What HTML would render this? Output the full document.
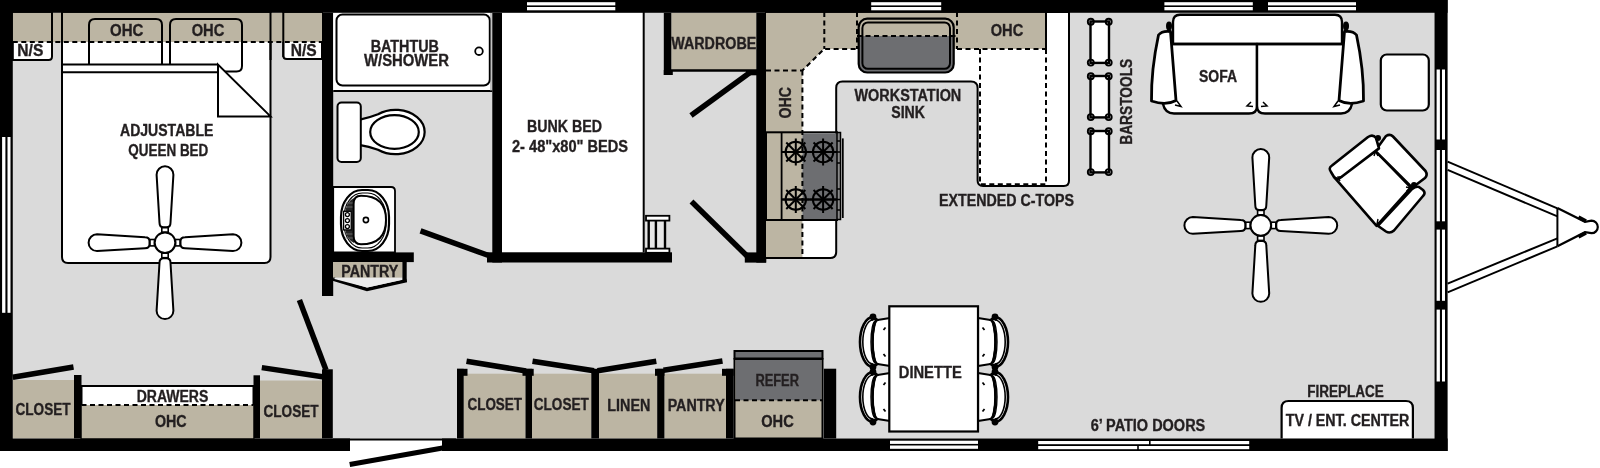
<!DOCTYPE html>
<html><head><meta charset="utf-8"><style>
html,body{margin:0;padding:0;background:#fff;}
svg{display:block;will-change:transform;}
</style></head><body>
<svg width="1600" height="468" viewBox="0 0 1600 468">
<rect x="0" y="0" width="1600" height="468" fill="#fff"/>
<rect x="12.8" y="12.8" width="1421.7" height="425.7" fill="#dadada"/>
<path d="M62,12 L270.5,12 L270.5,257 Q270.5,263 264.5,263 L68,263 Q62,263 62,257 Z" fill="#fff" stroke="#000" stroke-width="2"/>
<path d="M12.8,12 L52,12 L52,56.5 Q52,60 48.5,60 L12.8,60 Z" fill="#fff" stroke="#000" stroke-width="2"/>
<path d="M322,12 L283.3,12 L283.3,55.5 Q283.3,59 286.8,59 L322,59 Z" fill="#fff" stroke="#000" stroke-width="2"/>
<rect x="12.8" y="12.8" width="309.2" height="29.2" fill="#bcb5a3"/>
<g fill="none" stroke="#000" stroke-width="2">
<line x1="52" y1="12" x2="52" y2="57"/>
<line x1="62" y1="12" x2="62" y2="60"/>
<line x1="270.5" y1="12" x2="270.5" y2="60"/>
<line x1="283.3" y1="12" x2="283.3" y2="57"/>
</g>
<path d="M89,64.6 L89,25 Q89,19 95,19 L156,19 Q162,19 162,25 L162,64.6" fill="none" stroke="#000" stroke-width="2"/>
<path d="M170,64.6 L170,25 Q170,19 176,19 L236,19 Q242,19 242,25 L242,66 Q242,71.5 236.5,71.5 L218,71.5" fill="none" stroke="#000" stroke-width="2"/>
<g fill="none" stroke="#000" stroke-width="2">
<line x1="62" y1="64.6" x2="218" y2="64.6"/>
<line x1="62" y1="72.3" x2="218" y2="72.3"/>
<path d="M218,64.6 L218,116.4 L270.5,116.4 Z" fill="#fff"/>
</g>
<line x1="12.8" y1="42" x2="322" y2="42" stroke="#000" stroke-width="2" stroke-dasharray="5,3.5"/>
<g transform="translate(165,242.7)" fill="#fff" stroke="#000" stroke-width="2"><g transform="rotate(0)"><path d="M-5.5,-20 L-8.4,-68 A8.4,8.4 0 0 1 8.4,-68 L5.5,-20 Q5.5,-15.5 1.5,-15.5 L-1.5,-15.5 Q-5.5,-15.5 -5.5,-20 Z"/><rect x="-3.2" y="-15" width="6.4" height="4.5" stroke-width="1.6"/></g><g transform="rotate(90)"><path d="M-5.5,-20 L-8.4,-68 A8.4,8.4 0 0 1 8.4,-68 L5.5,-20 Q5.5,-15.5 1.5,-15.5 L-1.5,-15.5 Q-5.5,-15.5 -5.5,-20 Z"/><rect x="-3.2" y="-15" width="6.4" height="4.5" stroke-width="1.6"/></g><g transform="rotate(180)"><path d="M-5.5,-20 L-8.4,-68 A8.4,8.4 0 0 1 8.4,-68 L5.5,-20 Q5.5,-15.5 1.5,-15.5 L-1.5,-15.5 Q-5.5,-15.5 -5.5,-20 Z"/><rect x="-3.2" y="-15" width="6.4" height="4.5" stroke-width="1.6"/></g><g transform="rotate(270)"><path d="M-5.5,-20 L-8.4,-68 A8.4,8.4 0 0 1 8.4,-68 L5.5,-20 Q5.5,-15.5 1.5,-15.5 L-1.5,-15.5 Q-5.5,-15.5 -5.5,-20 Z"/><rect x="-3.2" y="-15" width="6.4" height="4.5" stroke-width="1.6"/></g><circle r="10.3" /></g>
<rect x="12.8" y="380" width="61.2" height="58.5" fill="#bcb5a3"/>
<rect x="81.5" y="386" width="172.0" height="52.5" fill="#fff" stroke="#000" stroke-width="2"/>
<rect x="81.5" y="405" width="172.0" height="33.5" fill="#bcb5a3"/>
<line x1="81.5" y1="405" x2="253.5" y2="405" stroke="#000" stroke-width="2" stroke-dasharray="5,3.5"/>
<rect x="260" y="380.5" width="62" height="58.0" fill="#bcb5a3"/>
<g fill="#000">
<rect x="74" y="375" width="7.5" height="63.5"/>
<rect x="253.5" y="375.3" width="6.5" height="63.19999999999999"/>
<rect x="322" y="369.3" width="10.8" height="69.19999999999999"/>
</g>
<g stroke="#000" stroke-width="5.5" fill="none">
<line x1="12.8" y1="377.3" x2="73.5" y2="367"/>
<line x1="261.8" y1="367.6" x2="322.5" y2="376.8"/>
<line x1="299.4" y1="300" x2="326" y2="370"/>
</g>
<rect x="322" y="12.8" width="11.2" height="283.2" fill="#000"/>
<rect x="333.2" y="12.8" width="159.10000000000002" height="78.2" fill="#fff"/>
<line x1="333.2" y1="91" x2="492.3" y2="91" stroke="#000" stroke-width="2"/>
<rect x="336.5" y="14.5" width="153.3" height="71" rx="6" fill="#fff" stroke="#000" stroke-width="2"/>
<circle cx="479" cy="51.2" r="3.8" fill="#fff" stroke="#000" stroke-width="1.8"/>
<line x1="491" y1="12" x2="491" y2="91" stroke="#888" stroke-width="1"/>
<path d="M359,119.8 Q369,117.8 378,114.2 A29.2,22.2 0 1 1 378,149.8 Q369,146.2 359,144.8 Z" fill="#fff" stroke="#000" stroke-width="2.2"/>
<ellipse cx="394.5" cy="132" rx="24.3" ry="16.8" fill="#fff" stroke="#000" stroke-width="2.2"/>
<rect x="337.5" y="102.5" width="23.3" height="59.5" rx="4" fill="#fff" stroke="#000" stroke-width="2"/>
<path d="M333.2,187 L391,187 Q395,187 395,191 L395,252.5 L333.2,252.5 Z" fill="#fff" stroke="#000" stroke-width="1.8"/>
<rect x="341" y="190" width="48" height="61" rx="21" ry="27" fill="#fff" stroke="#000" stroke-width="2.2"/>
<rect x="344" y="193" width="42" height="55" rx="18.3" ry="24.3" fill="none" stroke="#000" stroke-width="1.1"/>
<path d="M354,198 L354,243 Q347,240 345.3,230 L345.3,211 Q347,201 354,198 Z" fill="#262626"/>
<g stroke="#777" stroke-width="0.8"><line x1="345" y1="203" x2="353" y2="203"/><line x1="344.5" y1="207" x2="353" y2="207"/><line x1="344.5" y1="234" x2="353" y2="234"/><line x1="345" y1="238" x2="353" y2="238"/></g>
<path d="M361,195.8 Q386,195.8 386,220 Q386,244.3 361,244.3 Q353.6,244.3 353.6,236 L353.6,204 Q353.6,195.8 361,195.8 Z" fill="#fff" stroke="#000" stroke-width="2"/>
<rect x="343.6" y="211.3" width="7.6" height="18.6" fill="#fff" stroke="#000" stroke-width="1.3"/>
<g fill="#fff" stroke="#000" stroke-width="1.3"><circle cx="347.4" cy="214.6" r="2"/><circle cx="347.4" cy="220.6" r="2"/><circle cx="347.4" cy="226.6" r="2"/></g>
<circle cx="365.9" cy="220" r="2.6" fill="#fff" stroke="#000" stroke-width="1.6"/>
<rect x="333" y="252.4" width="80.8" height="9.7" fill="#000"/>
<rect x="333" y="262" width="69.4" height="15.8" fill="#bcb5a3"/>
<path d="M333,279 L367,289.5 L406.7,280.5" fill="none" stroke="#000" stroke-width="3.6"/>
<path d="M334.5,279 L367,287.5 L404,279.5 L404,277.8 L334.5,277.8 Z" fill="#ececec"/>
<rect x="402.4" y="262" width="4.3" height="20" fill="#000"/>
<line x1="420.5" y1="230.8" x2="490" y2="256" stroke="#000" stroke-width="5.5"/>
<rect x="502" y="12.8" width="141.70000000000005" height="239.6" fill="#fff"/>
<line x1="643.7" y1="12" x2="643.7" y2="252.4" stroke="#000" stroke-width="2"/>
<rect x="492.3" y="12.8" width="9.7" height="249.7" fill="#000"/>
<rect x="487" y="252.3" width="185" height="10.2" fill="#000"/>
<rect x="646" y="220.8" width="20" height="27.8" fill="#e6e6e6"/>
<g fill="#fff" stroke="#000" stroke-width="1.8">
<rect x="646" y="215.8" width="23.4" height="4.8"/>
<rect x="646" y="248.6" width="23.4" height="4.2"/>
</g>
<g stroke="#000" stroke-width="2.4"><line x1="648.7" y1="220" x2="648.7" y2="249"/><line x1="655.9" y1="220" x2="655.9" y2="249"/><line x1="665" y1="220" x2="665" y2="249"/></g>
<rect x="671.3" y="12.8" width="85.0" height="57.7" fill="#bcb5a3"/>
<line x1="664" y1="70.5" x2="757" y2="70.5" stroke="#000" stroke-width="2.5"/>
<rect x="663.8" y="12.8" width="7.5" height="62.2" fill="#000"/>
<rect x="663.8" y="70" width="9" height="5" fill="#000"/>
<line x1="691" y1="115.5" x2="750" y2="72.5" stroke="#000" stroke-width="5.5"/><rect x="746" y="70.3" width="11" height="5" fill="#000"/>
<line x1="691.5" y1="201.5" x2="747" y2="256" stroke="#000" stroke-width="5.5"/>
<rect x="744.8" y="252.4" width="21.5" height="10.2" fill="#000"/>
<path d="M766,12 L1069,12 L1069,180.8 Q1069,186 1063.8,186 L983,186 Q977.6,186 977.6,180.6 L977.6,88 Q977.6,81.5 971,81.5 L842.5,81.5 Q836.2,81.5 836.2,88 L836.2,252 Q836.2,258 830.2,258 L766,258 Z" fill="#fff" stroke="#000" stroke-width="2"/>
<path d="M766,12.8 L1046,12.8 L1046,49 L824,49 L802.4,70.5 L802.4,257 L766,257 Z" fill="#bcb5a3"/>
<line x1="1046" y1="12" x2="1046" y2="49" stroke="#000" stroke-width="2"/>
<rect x="766" y="132.3" width="71" height="87.7" fill="none" stroke="#000" stroke-width="2"/>
<rect x="802.4" y="133.3" width="34.6" height="85.7" fill="#6d6e71"/>
<rect x="837" y="132.5" width="3.5" height="87" fill="#888" stroke="#000" stroke-width="1.5"/>
<line x1="842.8" y1="138.4" x2="842.8" y2="218" stroke="#000" stroke-width="1.8"/>
<g stroke="#000" stroke-width="1.5"><line x1="837" y1="141" x2="841" y2="141"/><line x1="837" y1="152" x2="841" y2="152"/><line x1="837" y1="163" x2="841" y2="163"/><line x1="837" y1="189" x2="841" y2="189"/><line x1="837" y1="199.5" x2="841" y2="199.5"/><line x1="837" y1="210" x2="841" y2="210"/></g>
<line x1="781.6" y1="132.3" x2="781.6" y2="220" stroke="#000" stroke-width="1.8"/>
<line x1="781.6" y1="152" x2="837" y2="152" stroke="#000" stroke-width="1.8"/>
<line x1="781.6" y1="199.5" x2="837" y2="199.5" stroke="#000" stroke-width="1.8"/>
<g transform="translate(795.8,152)" fill="none" stroke="#000" stroke-width="2"><circle r="10.2"/><line x1="0" y1="-13.5" x2="0" y2="13.5" transform="rotate(0)"/><line x1="0" y1="-13.5" x2="0" y2="13.5" transform="rotate(45)"/><line x1="0" y1="-13.5" x2="0" y2="13.5" transform="rotate(90)"/><line x1="0" y1="-13.5" x2="0" y2="13.5" transform="rotate(135)"/></g>
<g transform="translate(823.1,152)" fill="none" stroke="#000" stroke-width="2"><circle r="10.2"/><line x1="0" y1="-13.5" x2="0" y2="13.5" transform="rotate(0)"/><line x1="0" y1="-13.5" x2="0" y2="13.5" transform="rotate(45)"/><line x1="0" y1="-13.5" x2="0" y2="13.5" transform="rotate(90)"/><line x1="0" y1="-13.5" x2="0" y2="13.5" transform="rotate(135)"/></g>
<g transform="translate(795.8,199.5)" fill="none" stroke="#000" stroke-width="2"><circle r="10.2"/><line x1="0" y1="-13.5" x2="0" y2="13.5" transform="rotate(0)"/><line x1="0" y1="-13.5" x2="0" y2="13.5" transform="rotate(45)"/><line x1="0" y1="-13.5" x2="0" y2="13.5" transform="rotate(90)"/><line x1="0" y1="-13.5" x2="0" y2="13.5" transform="rotate(135)"/></g>
<g transform="translate(823.1,199.5)" fill="none" stroke="#000" stroke-width="2"><circle r="10.2"/><line x1="0" y1="-13.5" x2="0" y2="13.5" transform="rotate(0)"/><line x1="0" y1="-13.5" x2="0" y2="13.5" transform="rotate(45)"/><line x1="0" y1="-13.5" x2="0" y2="13.5" transform="rotate(90)"/><line x1="0" y1="-13.5" x2="0" y2="13.5" transform="rotate(135)"/></g>
<rect x="858.7" y="18.7" width="95" height="53.8" rx="8.5" fill="#6d6e71"/>
<path d="M858.7,36 L858.7,27.2 Q858.7,18.7 867.2,18.7 L945.2,18.7 Q953.7,18.7 953.7,27.2 L953.7,36 Z" fill="#bcb5a3"/>
<rect x="858.7" y="18.7" width="95" height="53.8" rx="8.5" fill="none" stroke="#000" stroke-width="2.2"/>
<rect x="862.4" y="22.4" width="87.6" height="46.4" rx="5.5" fill="none" stroke="#000" stroke-width="2"/>
<g fill="none" stroke="#000" stroke-width="2" stroke-dasharray="5,3.5">
<path d="M766,70.5 L802.4,70.5 L824,49 L857,49"/>
<line x1="802.4" y1="70.5" x2="802.4" y2="258"/>
<line x1="824.3" y1="12" x2="824.3" y2="49"/>
<line x1="857" y1="12" x2="857" y2="49"/>
<line x1="957" y1="12" x2="957" y2="49"/>
<line x1="857" y1="36" x2="957" y2="36"/>
<line x1="957" y1="49" x2="1046" y2="49"/>
<path d="M980,49 L980,184.2 L1046,184.2 L1046,49"/>
</g>
<rect x="756.3" y="12.8" width="9.7" height="249.8" fill="#000"/>
<rect x="1090.5" y="21.5" width="18.5" height="41.4" fill="#fff" stroke="#000" stroke-width="2.4"/>
<g fill="none" stroke="#000" stroke-width="1.9"><circle cx="1090.8" cy="21.8" r="3"/><circle cx="1108.7" cy="21.8" r="3"/><circle cx="1090.8" cy="62.6" r="3"/><circle cx="1108.7" cy="62.6" r="3"/></g>
<rect x="1090.5" y="76" width="18.5" height="41.4" fill="#fff" stroke="#000" stroke-width="2.4"/>
<g fill="none" stroke="#000" stroke-width="1.9"><circle cx="1090.8" cy="76.3" r="3"/><circle cx="1108.7" cy="76.3" r="3"/><circle cx="1090.8" cy="117.1" r="3"/><circle cx="1108.7" cy="117.1" r="3"/></g>
<rect x="1090.5" y="131" width="18.5" height="41.4" fill="#fff" stroke="#000" stroke-width="2.4"/>
<g fill="none" stroke="#000" stroke-width="1.9"><circle cx="1090.8" cy="131.3" r="3"/><circle cx="1108.7" cy="131.3" r="3"/><circle cx="1090.8" cy="172.1" r="3"/><circle cx="1108.7" cy="172.1" r="3"/></g>
<g fill="#fff" stroke="#000" stroke-width="2.4" stroke-linejoin="round">
<path d="M1173,44 L1173,22 Q1173,14.7 1180,14.7 L1335,14.7 Q1342,14.7 1342,22 L1342,44"/>
<path d="M1163,44 L1257,44 L1257,106 Q1257,113.5 1249,113.5 L1174,113.5 Q1165,113.5 1163,104 Z"/>
<path d="M1257,44 L1352,44 L1352,104 Q1350,113.5 1341,113.5 L1265,113.5 Q1257,113.5 1257,106 Z"/>
<line x1="1173" y1="44" x2="1342" y2="44"/>
<path d="M1158.5,35 Q1162,30.5 1170.5,31.5 L1176,100.5 Q1166,106 1151.5,101 Q1151,70 1158.5,35 Z" stroke-width="2.8"/>
<path d="M1356.5,35 Q1353,30.5 1344.5,31.5 L1339,100.5 Q1349,106 1363.5,101 Q1364,70 1356.5,35 Z" stroke-width="2.8"/>
</g>
<g fill="#000"><ellipse cx="1169" cy="26" rx="3" ry="4.5"/><ellipse cx="1346" cy="26" rx="3" ry="4.5"/></g>
<g fill="none" stroke="#000" stroke-width="1.5"><path d="M1175,105 L1181,106.5 L1177,101"/><path d="M1253,106.5 L1247,106 L1251,102"/><path d="M1261,106.5 L1267,106 L1263,102"/><path d="M1340,105 L1334,106.5 L1338,101"/></g>
<rect x="1380.8" y="54.5" width="48" height="56" rx="6" fill="#fff" stroke="#000" stroke-width="2.2"/>
<g transform="translate(1260.8,225.4)" fill="#fff" stroke="#000" stroke-width="2"><g transform="rotate(0)"><path d="M-5.5,-20 L-8.4,-68 A8.4,8.4 0 0 1 8.4,-68 L5.5,-20 Q5.5,-15.5 1.5,-15.5 L-1.5,-15.5 Q-5.5,-15.5 -5.5,-20 Z"/><rect x="-3.2" y="-15" width="6.4" height="4.5" stroke-width="1.6"/></g><g transform="rotate(90)"><path d="M-5.5,-20 L-8.4,-68 A8.4,8.4 0 0 1 8.4,-68 L5.5,-20 Q5.5,-15.5 1.5,-15.5 L-1.5,-15.5 Q-5.5,-15.5 -5.5,-20 Z"/><rect x="-3.2" y="-15" width="6.4" height="4.5" stroke-width="1.6"/></g><g transform="rotate(180)"><path d="M-5.5,-20 L-8.4,-68 A8.4,8.4 0 0 1 8.4,-68 L5.5,-20 Q5.5,-15.5 1.5,-15.5 L-1.5,-15.5 Q-5.5,-15.5 -5.5,-20 Z"/><rect x="-3.2" y="-15" width="6.4" height="4.5" stroke-width="1.6"/></g><g transform="rotate(270)"><path d="M-5.5,-20 L-8.4,-68 A8.4,8.4 0 0 1 8.4,-68 L5.5,-20 Q5.5,-15.5 1.5,-15.5 L-1.5,-15.5 Q-5.5,-15.5 -5.5,-20 Z"/><rect x="-3.2" y="-15" width="6.4" height="4.5" stroke-width="1.6"/></g><circle r="10.3" /></g>
<g fill="#fff" stroke="#000" stroke-width="2.6" stroke-linejoin="round">
<path d="M1334.8,177.9 L1375.3,150.8 L1411,187.7 L1376.6,225.8 Z"/>
<path d="M1386,136 Q1390,133.5 1393,136.5 L1425.5,171 Q1428,175 1425,178 L1412.2,187.7 L1375.3,150.8 Z"/>
<path d="M1331,172 Q1328,168 1332,165.5 L1368,137 Q1373,134 1376,138 L1379,148.4 L1340,178 Q1337,180 1334,177 Z"/>
<path d="M1423,190 Q1426,193 1423,196 L1394,230.5 Q1390,234 1386,231.5 L1377.8,225.8 L1412.2,188.9 Q1416,186 1419,187 Z"/>
</g>
<g fill="#000"><circle cx="1378" cy="138" r="3"/><circle cx="1414" cy="185" r="3"/></g>
<g fill="none" stroke="#000" stroke-width="1.4"><path d="M1340,181 L1338,177 L1343,176.5"/><path d="M1374,156 L1375.5,151.5 L1378,156"/><path d="M1406,187 L1410,188 L1406.5,191"/><path d="M1378,219 L1377,224 L1381,222"/></g>
<g transform="translate(890,342)" fill="#fff" stroke="#000" stroke-width="2.2" stroke-linejoin="round"><path d="M-12.5,-22 L0,-24 L0,24 L-12.5,22 A5,22 0 0 1 -12.5,-22 Z"/><path d="M-17,-25 A13,25 0 0 0 -17,25 L-12.5,22 A5,22 0 0 1 -12.5,-22 Z" stroke-width="2.6"/><path d="M-17,-22 A10.2,22 0 0 0 -17,22" fill="none" stroke-width="1.6"/><path d="M-14.5,-21 A4.5,21 0 0 0 -14.5,21" fill="none" stroke-width="1.4"/><circle cx="-17" cy="-25" r="2.3" fill="#000"/><circle cx="-17" cy="25" r="2.3" fill="#000"/><line x1="-6.5" y1="-12" x2="-4.5" y2="-14.5" stroke-width="1.8"/><line x1="-6.5" y1="12" x2="-4.5" y2="14.5" stroke-width="1.8"/></g>
<g transform="translate(978,342) scale(-1,1)" fill="#fff" stroke="#000" stroke-width="2.2" stroke-linejoin="round"><path d="M-12.5,-22 L0,-24 L0,24 L-12.5,22 A5,22 0 0 1 -12.5,-22 Z"/><path d="M-17,-25 A13,25 0 0 0 -17,25 L-12.5,22 A5,22 0 0 1 -12.5,-22 Z" stroke-width="2.6"/><path d="M-17,-22 A10.2,22 0 0 0 -17,22" fill="none" stroke-width="1.6"/><path d="M-14.5,-21 A4.5,21 0 0 0 -14.5,21" fill="none" stroke-width="1.4"/><circle cx="-17" cy="-25" r="2.3" fill="#000"/><circle cx="-17" cy="25" r="2.3" fill="#000"/><line x1="-6.5" y1="-12" x2="-4.5" y2="-14.5" stroke-width="1.8"/><line x1="-6.5" y1="12" x2="-4.5" y2="14.5" stroke-width="1.8"/></g>
<g transform="translate(890,397)" fill="#fff" stroke="#000" stroke-width="2.2" stroke-linejoin="round"><path d="M-12.5,-22 L0,-24 L0,24 L-12.5,22 A5,22 0 0 1 -12.5,-22 Z"/><path d="M-17,-25 A13,25 0 0 0 -17,25 L-12.5,22 A5,22 0 0 1 -12.5,-22 Z" stroke-width="2.6"/><path d="M-17,-22 A10.2,22 0 0 0 -17,22" fill="none" stroke-width="1.6"/><path d="M-14.5,-21 A4.5,21 0 0 0 -14.5,21" fill="none" stroke-width="1.4"/><circle cx="-17" cy="-25" r="2.3" fill="#000"/><circle cx="-17" cy="25" r="2.3" fill="#000"/><line x1="-6.5" y1="-12" x2="-4.5" y2="-14.5" stroke-width="1.8"/><line x1="-6.5" y1="12" x2="-4.5" y2="14.5" stroke-width="1.8"/></g>
<g transform="translate(978,397) scale(-1,1)" fill="#fff" stroke="#000" stroke-width="2.2" stroke-linejoin="round"><path d="M-12.5,-22 L0,-24 L0,24 L-12.5,22 A5,22 0 0 1 -12.5,-22 Z"/><path d="M-17,-25 A13,25 0 0 0 -17,25 L-12.5,22 A5,22 0 0 1 -12.5,-22 Z" stroke-width="2.6"/><path d="M-17,-22 A10.2,22 0 0 0 -17,22" fill="none" stroke-width="1.6"/><path d="M-14.5,-21 A4.5,21 0 0 0 -14.5,21" fill="none" stroke-width="1.4"/><circle cx="-17" cy="-25" r="2.3" fill="#000"/><circle cx="-17" cy="25" r="2.3" fill="#000"/><line x1="-6.5" y1="-12" x2="-4.5" y2="-14.5" stroke-width="1.8"/><line x1="-6.5" y1="12" x2="-4.5" y2="14.5" stroke-width="1.8"/></g>
<rect x="889.3" y="306.3" width="88.7" height="125.2" fill="#fff" stroke="#000" stroke-width="2.2"/>
<rect x="463.7" y="373.7" width="61.80000000000001" height="64.80000000000001" fill="#bcb5a3"/>
<rect x="532" y="373.7" width="59.299999999999955" height="64.80000000000001" fill="#bcb5a3"/>
<rect x="599" y="373.7" width="58.200000000000045" height="64.80000000000001" fill="#bcb5a3"/>
<rect x="664.4" y="373.7" width="61.60000000000002" height="64.80000000000001" fill="#bcb5a3"/>
<g fill="#000">
<rect x="457" y="368.8" width="6.699999999999989" height="69.69999999999999"/>
<rect x="525.5" y="368.8" width="6.5" height="69.69999999999999"/>
<rect x="591.3" y="368.8" width="7.7000000000000455" height="69.69999999999999"/>
<rect x="657.2" y="368.8" width="7.199999999999932" height="69.69999999999999"/>
<rect x="726" y="368.8" width="7.600000000000023" height="69.69999999999999"/>
<rect x="457" y="368.8" width="10.5" height="7"/>
<rect x="522.5" y="368.8" width="11.2" height="7"/>
<rect x="655" y="368.8" width="9.4" height="7"/>
<rect x="722" y="368.8" width="11.6" height="7"/>
</g>
<g stroke="#000" stroke-width="5.5" fill="none">
<line x1="466.5" y1="361.2" x2="526" y2="371"/>
<line x1="532.5" y1="361.2" x2="594" y2="370.8"/>
<line x1="597.5" y1="370.8" x2="656.3" y2="361.3"/>
<line x1="663.5" y1="370.3" x2="722.5" y2="361"/>
</g>
<rect x="734.5" y="351" width="88" height="7.5" fill="#6d6e71" stroke="#000" stroke-width="2"/>
<rect x="734.5" y="359" width="88" height="79.5" fill="#bcb5a3" stroke="#000" stroke-width="2"/>
<rect x="735.5" y="360" width="86" height="40.3" fill="#6d6e71"/>
<line x1="735" y1="400.3" x2="822" y2="400.3" stroke="#000" stroke-width="2" stroke-dasharray="5,3.5"/>
<rect x="823.8" y="368.7" width="12.4" height="69.80000000000001" fill="#000"/>
<path d="M1281.6,438.5 L1281.6,408 Q1281.6,401 1288.6,401 L1405.9,401 Q1412.9,401 1412.9,408 L1412.9,438.5" fill="#fff" stroke="#000" stroke-width="2.2"/>
<g fill="#000">
<rect x="0" y="0" width="1447.6" height="12.8"/>
<rect x="0" y="0" width="12.8" height="451.0"/>
<rect x="1434.5" y="0" width="13.099999999999909" height="451.0"/>
<rect x="0" y="438.5" width="350" height="12.5"/>
<rect x="442" y="438.5" width="1005.5999999999999" height="12.5"/>
<rect x="333" y="438.5" width="123" height="2"/>
</g>
<line x1="349.7" y1="464.5" x2="442.6" y2="448" stroke="#000" stroke-width="5"/>
<rect x="527" y="2.2" width="88.29999999999995" height="3.2" fill="#fff"/><rect x="527" y="7" width="88.29999999999995" height="3.3" fill="#fff"/>
<rect x="871.2" y="2.2" width="70.0" height="3.2" fill="#fff"/><rect x="871.2" y="7" width="70.0" height="3.3" fill="#fff"/>
<rect x="1164.4" y="2.2" width="88.39999999999986" height="3.2" fill="#fff"/><rect x="1164.4" y="7" width="88.39999999999986" height="3.3" fill="#fff"/>
<rect x="1268" y="2.2" width="88" height="3.2" fill="#fff"/><rect x="1268" y="7" width="88" height="3.3" fill="#fff"/>
<rect x="890" y="440.7" width="88" height="3.2" fill="#fff"/><rect x="890" y="445.5" width="88" height="3.3" fill="#fff"/>
<rect x="1038.2" y="441.0" width="110.79999999999991" height="3.2" fill="#fff"/>
<rect x="1150.6" y="441.0" width="98.6000000000001" height="3.2" fill="#fff"/>
<rect x="1038.2" y="446.0" width="98.99999999999996" height="3.2" fill="#fff"/>
<rect x="1138.8" y="446.0" width="110.40000000000005" height="3.2" fill="#fff"/>
<rect x="2.1" y="137" width="3.3" height="175.8" fill="#fff"/><rect x="7.5" y="137" width="3.0" height="175.8" fill="#fff"/>
<rect x="1436.6" y="69.5" width="3.3" height="70.0" fill="#fff"/><rect x="1442.0" y="69.5" width="3.0" height="70.0" fill="#fff"/>
<rect x="1436.6" y="150" width="3.3" height="71.30000000000001" fill="#fff"/><rect x="1442.0" y="150" width="3.0" height="71.30000000000001" fill="#fff"/>
<rect x="1436.6" y="229.6" width="3.3" height="71.20000000000002" fill="#fff"/><rect x="1442.0" y="229.6" width="3.0" height="71.20000000000002" fill="#fff"/>
<rect x="1436.6" y="309.6" width="3.3" height="71.89999999999998" fill="#fff"/><rect x="1442.0" y="309.6" width="3.0" height="71.89999999999998" fill="#fff"/>
<g fill="none" stroke="#000" stroke-width="2">
<line x1="1447.6" y1="161.7" x2="1557.4" y2="208.3"/>
<line x1="1447.6" y1="169.8" x2="1557.4" y2="216.4"/>
<line x1="1447.6" y1="283.6" x2="1557.4" y2="238.3"/>
<line x1="1447.6" y1="292.4" x2="1557.4" y2="246.3"/>
<line x1="1557.4" y1="208" x2="1557.4" y2="246.3"/>
<path d="M1557.4,208 L1585,221.8 L1591.5,220.6 A6.3,6.3 0 0 1 1591.5,233.2 L1585,232.2 L1557.4,246.3" stroke-width="2.2"/>
</g>
<g stroke="#000" stroke-width="3.6"><line x1="1578.5" y1="217.2" x2="1586" y2="221.2"/><line x1="1578.5" y1="236.8" x2="1586" y2="232.8"/></g>
<g font-family="Liberation Sans, sans-serif" font-weight="bold" fill="#231f20" stroke="#231f20" stroke-width="0.35">
<text x="30.3" y="55.7" font-size="16" text-anchor="middle" textLength="26" lengthAdjust="spacingAndGlyphs">N/S</text>
<text x="303.7" y="56" font-size="16" text-anchor="middle" textLength="26" lengthAdjust="spacingAndGlyphs">N/S</text>
<text x="126.7" y="36" font-size="16" text-anchor="middle" textLength="33.3" lengthAdjust="spacingAndGlyphs">OHC</text>
<text x="208" y="36" font-size="16" text-anchor="middle" textLength="32.6" lengthAdjust="spacingAndGlyphs">OHC</text>
<text x="166.7" y="135.7" font-size="16" text-anchor="middle" textLength="93.3" lengthAdjust="spacingAndGlyphs">ADJUSTABLE</text>
<text x="168.3" y="155.5" font-size="16" text-anchor="middle" textLength="80" lengthAdjust="spacingAndGlyphs">QUEEN BED</text>
<text x="404.8" y="51.7" font-size="16" text-anchor="middle" textLength="68.3" lengthAdjust="spacingAndGlyphs">BATHTUB</text>
<text x="406.5" y="65.5" font-size="16" text-anchor="middle" textLength="85" lengthAdjust="spacingAndGlyphs">W/SHOWER</text>
<text x="564.5" y="132.3" font-size="16" text-anchor="middle" textLength="75" lengthAdjust="spacingAndGlyphs">BUNK BED</text>
<text x="570" y="151.5" font-size="16" text-anchor="middle" textLength="116" lengthAdjust="spacingAndGlyphs">2- 48&quot;x80&quot; BEDS</text>
<text x="713.75" y="48.75" font-size="16" text-anchor="middle" textLength="85" lengthAdjust="spacingAndGlyphs">WARDROBE</text>
<text x="907.9" y="100.8" font-size="16" text-anchor="middle" textLength="106.75" lengthAdjust="spacingAndGlyphs">WORKSTATION</text>
<text x="908.1" y="117.5" font-size="16" text-anchor="middle" textLength="33.75" lengthAdjust="spacingAndGlyphs">SINK</text>
<text x="1007" y="36.25" font-size="16" text-anchor="middle" textLength="32.5" lengthAdjust="spacingAndGlyphs">OHC</text>
<text x="1006.5" y="206" font-size="16" text-anchor="middle" textLength="135" lengthAdjust="spacingAndGlyphs">EXTENDED C-TOPS</text>
<text x="1218" y="82" font-size="16" text-anchor="middle" textLength="38" lengthAdjust="spacingAndGlyphs">SOFA</text>
<text x="930.25" y="377.5" font-size="16" text-anchor="middle" textLength="63" lengthAdjust="spacingAndGlyphs">DINETTE</text>
<text x="1148" y="431.25" font-size="16" text-anchor="middle" textLength="114.5" lengthAdjust="spacingAndGlyphs">6’ PATIO DOORS</text>
<text x="1345.5" y="396.8" font-size="16" text-anchor="middle" textLength="76.6" lengthAdjust="spacingAndGlyphs">FIREPLACE</text>
<text x="1347.5" y="425.5" font-size="16" text-anchor="middle" textLength="123.5" lengthAdjust="spacingAndGlyphs">TV / ENT. CENTER</text>
<text x="43" y="415.3" font-size="16" text-anchor="middle" textLength="55" lengthAdjust="spacingAndGlyphs">CLOSET</text>
<text x="172.5" y="402.3" font-size="16" text-anchor="middle" textLength="71.6" lengthAdjust="spacingAndGlyphs">DRAWERS</text>
<text x="170.8" y="427.3" font-size="16" text-anchor="middle" textLength="31.7" lengthAdjust="spacingAndGlyphs">OHC</text>
<text x="291" y="416.5" font-size="16" text-anchor="middle" textLength="55" lengthAdjust="spacingAndGlyphs">CLOSET</text>
<text x="494.75" y="410" font-size="16" text-anchor="middle" textLength="54.5" lengthAdjust="spacingAndGlyphs">CLOSET</text>
<text x="561.25" y="410" font-size="16" text-anchor="middle" textLength="55" lengthAdjust="spacingAndGlyphs">CLOSET</text>
<text x="628.85" y="410.5" font-size="16" text-anchor="middle" textLength="43" lengthAdjust="spacingAndGlyphs">LINEN</text>
<text x="696.15" y="410.5" font-size="16" text-anchor="middle" textLength="57" lengthAdjust="spacingAndGlyphs">PANTRY</text>
<text x="777.2" y="386.2" font-size="16" text-anchor="middle" textLength="43.6" lengthAdjust="spacingAndGlyphs">REFER</text>
<text x="777.5" y="427.2" font-size="16" text-anchor="middle" textLength="32.5" lengthAdjust="spacingAndGlyphs">OHC</text>
<text x="369.8" y="277" font-size="16" text-anchor="middle" textLength="57" lengthAdjust="spacingAndGlyphs">PANTRY</text>
<text x="791.2" y="102.7" font-size="16" text-anchor="middle" textLength="31.4" lengthAdjust="spacingAndGlyphs" transform="rotate(-90,791.2,102.7)">OHC</text>
<text x="1131.5" y="101.75" font-size="16" text-anchor="middle" textLength="86" lengthAdjust="spacingAndGlyphs" transform="rotate(-90,1131.5,101.75)">BARSTOOLS</text>
</g>
</svg>
</body></html>
